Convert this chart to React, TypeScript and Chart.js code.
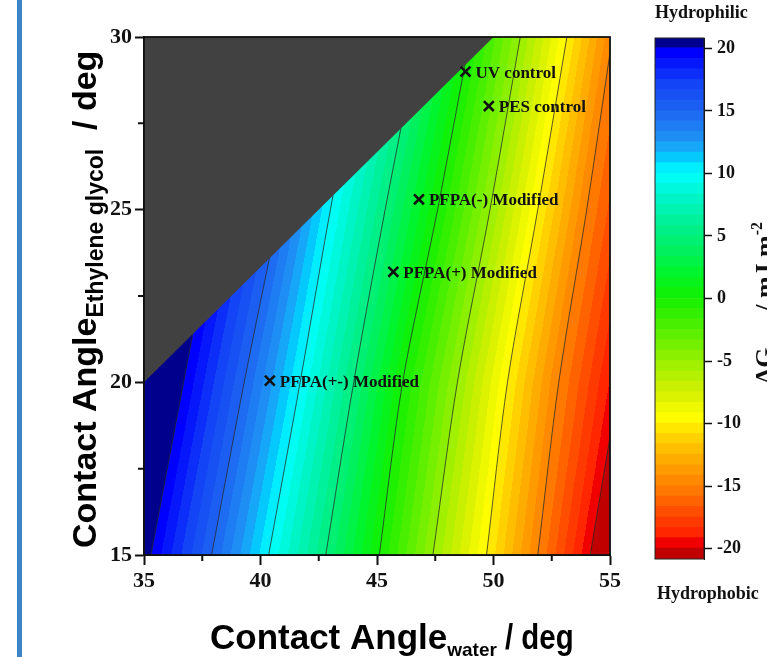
import React, { useEffect, useRef } from "react";
import { Chart, registerables } from "chart.js";

Chart.register(...registerables);

// ---------- axes ----------
const waterMin = 35;
const waterMax = 55;
const egMin = 15;
const egMax = 30;
const waterTicks = [35, 40, 45, 50, 55];
const waterMinorTicks = [37.5, 42.5, 47.5, 52.5];
const egTicks = [15, 20, 25, 30];
const egMinorTicks = [17.5, 22.5, 27.5];

// ---------- contour data (ΔG, mJ m^-2) ----------
// water contact angle at which each ΔG level crosses the given ethylene glycol angle
const contourLevels = [20, 15, 10, 5, 0, -5, -10, -15, -20];
const egRows = [15, 20, 25, 30];
const crossAtEG15 = [35.3, 37.9, 40.35, 42.8, 45.1, 47.4, 49.7, 51.9, 54.15];
const crossAtEG20 = [36.7, 39.3, 41.7, 44.0, 46.1, 48.45, 50.6, 52.8, 55.4];
const crossAtEG25 = [38.1, 40.8, 43.0, 45.35, 47.6, 49.85, 51.9, 54.0, 56.7];
const crossAtEG30 = [39.5, 42.2, 44.4, 46.8, 49.0, 51.15, 53.15, 55.1, 58.0];
const crossRows = [crossAtEG15, crossAtEG20, crossAtEG25, crossAtEG30];

// region without solution (gray): above the line between these two points
const maskWater = [35, 50];
const maskEG = [20, 30];

// ---------- membranes ----------
const sampleNames = ["UV control", "PES control", "PFPA(-) Modified", "PFPA(+) Modified", "PFPA(+-) Modified"];
const sampleWater = [48.8, 49.8, 46.8, 45.7, 40.4];
const sampleEG = [29.0, 28.0, 25.3, 23.2, 20.05];

// ---------- colour bar ----------
const bandWidth = 5 / 6;
const colorbarTicks = [20, 15, 10, 5, 0, -5, -10, -15, -20];
const cmapValues = [20.4, 19.6, 17, 15, 12.5, 11, 10, 8, 6, 4, 2, 0, -2, -5, -7.5, -9.5, -11, -12.5, -15, -17, -19, -19.6, -20.4];
const cmapColors = [
  "#00008c", "#0000ff", "#1446f5", "#1e64f0", "#1e96f5", "#00d2ff", "#00ffff",
  "#00f5c8", "#00f096", "#00f064", "#00f52d", "#14f000", "#46f000", "#96f000",
  "#d2f000", "#ffff00", "#ffd700", "#ffb400", "#ff8200", "#ff5000", "#ff2000",
  "#f00000", "#c00000",
];

const SERIF = '"Liberation Serif", "Times New Roman", serif';
const SANS = '"Liberation Sans", Arial, sans-serif';

function hexToRgb(h: string): number[] {
  const n = parseInt(h.slice(1), 16);
  return [(n >> 16) & 255, (n >> 8) & 255, n & 255];
}
const cmapRgb = cmapColors.map(hexToRgb);

function cmap(v: number): number[] {
  if (v >= cmapValues[0]) return cmapRgb[0];
  const n = cmapValues.length;
  if (v <= cmapValues[n - 1]) return cmapRgb[n - 1];
  for (let i = 0; i < n - 1; i++) {
    const a = cmapValues[i], b = cmapValues[i + 1];
    if (v <= a && v >= b) {
      const t = (a - v) / (a - b);
      const c0 = cmapRgb[i], c1 = cmapRgb[i + 1];
      return [0, 1, 2].map((k) => Math.round(c0[k] + t * (c1[k] - c0[k])));
    }
  }
  return cmapRgb[n - 1];
}

const cbMin = -20 - bandWidth;
const cbMax = 20 + bandWidth;
const bands: { lo: number; hi: number; rgb: number[] }[] = [];
for (let k = -1; k <= 48; k++) {
  const lo = Math.round((-20 + k * bandWidth) * 1e6) / 1e6;
  const hi = Math.round((-20 + (k + 1) * bandWidth) * 1e6) / 1e6;
  bands.push({ lo, hi, rgb: cmap((lo + hi) / 2) });
}
const rgbStr = (c: number[]) => `rgb(${c[0]},${c[1]},${c[2]})`;

function bandRgb(v: number): number[] {
  let k = Math.floor((v + 20) / bandWidth);
  if (k < -1) k = -1;
  if (k > 48) k = 48;
  return bands[k + 1].rgb;
}

function crossingsAt(eg: number): number[] {
  const n = egRows.length;
  let j = 0;
  if (eg >= egRows[n - 1]) j = n - 2;
  else if (eg > egRows[0]) {
    while (j < n - 2 && eg >= egRows[j + 1]) j++;
  }
  const t = (eg - egRows[j]) / (egRows[j + 1] - egRows[j]);
  return contourLevels.map((_, i) => crossRows[j][i] + t * (crossRows[j + 1][i] - crossRows[j][i]));
}

function valueAt(w: number, xc: number[]): number {
  const n = contourLevels.length;
  let i = 0;
  if (w >= xc[n - 1]) i = n - 2;
  else if (w > xc[0]) {
    while (i < n - 2 && w >= xc[i + 1]) i++;
  }
  const f = (w - xc[i]) / (xc[i + 1] - xc[i]);
  return contourLevels[i] + f * (contourLevels[i + 1] - contourLevels[i]);
}

type Seg = { t: string; font: string; dy: number; sx?: number };
function drawSegs(ctx: CanvasRenderingContext2D, segs: Seg[], x: number, y: number, align: "left" | "center") {
  ctx.textAlign = "left";
  ctx.textBaseline = "alphabetic";
  const widths = segs.map((s) => {
    ctx.font = s.font;
    return ctx.measureText(s.t).width * (s.sx ?? 1);
  });
  const total = widths.reduce((a, b) => a + b, 0);
  let cx = align === "center" ? x - total / 2 : x;
  segs.forEach((s, i) => {
    ctx.save();
    ctx.font = s.font;
    ctx.translate(cx, y + s.dy);
    ctx.scale(s.sx ?? 1, 1);
    ctx.fillText(s.t, 0, 0);
    ctx.restore();
    cx += widths[i];
  });
}

const fieldPlugin = {
  id: "field",
  beforeDatasetsDraw(chart: any) {
    const { ctx, chartArea: a, scales } = chart;
    const xs = scales.x, ys = scales.y;
    const w = Math.round(a.right - a.left);
    const h = Math.round(a.bottom - a.top);
    const off = document.createElement("canvas");
    off.width = w;
    off.height = h;
    const octx = off.getContext("2d")!;
    const img = octx.createImageData(w, h);
    const waterVals: number[] = [];
    for (let c = 0; c < w; c++) waterVals.push(xs.getValueForPixel(a.left + c + 0.5));
    for (let r = 0; r < h; r++) {
      const eg = ys.getValueForPixel(a.top + r + 0.5);
      const xc = crossingsAt(eg);
      for (let c = 0; c < w; c++) {
        const col = bandRgb(valueAt(waterVals[c], xc));
        const p = (r * w + c) * 4;
        img.data[p] = col[0];
        img.data[p + 1] = col[1];
        img.data[p + 2] = col[2];
        img.data[p + 3] = 255;
      }
    }
    octx.putImageData(img, 0, 0);
    ctx.save();
    ctx.drawImage(off, a.left, a.top);
    ctx.restore();
  },
};

const decorPlugin = {
  id: "decor",
  afterDatasetsDraw(chart: any) {
    const { ctx, chartArea: a, scales } = chart;
    ctx.save();
    ctx.strokeStyle = "#111";
    ctx.lineWidth = 1.8;
    ctx.strokeRect(a.left, a.top, a.right - a.left, a.bottom - a.top);
    ctx.lineWidth = 2;
    ctx.beginPath();
    waterMinorTicks.forEach((v) => {
      const px = scales.x.getPixelForValue(v);
      ctx.moveTo(px, a.bottom);
      ctx.lineTo(px, a.bottom + 6);
    });
    egMinorTicks.forEach((v) => {
      const py = scales.y.getPixelForValue(v);
      ctx.moveTo(a.left - 6, py);
      ctx.lineTo(a.left, py);
    });
    ctx.stroke();

    // sample labels
    ctx.fillStyle = "#111";
    ctx.font = `bold 17px ${SERIF}`;
    ctx.textAlign = "left";
    ctx.textBaseline = "alphabetic";
    sampleNames.forEach((name, i) => {
      const px = scales.x.getPixelForValue(sampleWater[i]);
      const py = scales.y.getPixelForValue(sampleEG[i]);
      ctx.fillText(name, px + 10, py + 6);
    });
    ctx.restore();
  },
  afterDraw(chart: any) {
    const { ctx } = chart;
    ctx.save();
    ctx.fillStyle = "#000";
    drawSegs(
      ctx,
      [
        { t: "Contact Angle", font: `bold 35px ${SANS}`, dy: 0 },
        { t: "water", font: `bold 19px ${SANS}`, dy: 7 },
        { t: " / deg", font: `bold 35px ${SANS}`, dy: 0, sx: 0.84 },
      ],
      210,
      649,
      "left"
    );
    ctx.translate(96, 548);
    ctx.rotate(-Math.PI / 2);
    drawSegs(
      ctx,
      [
        { t: "Contact Angle", font: `bold 34px ${SANS}`, dy: 0 },
        { t: "Ethylene glycol", font: `bold 23px ${SANS}`, dy: 7 },
        { t: "  / deg", font: `bold 34px ${SANS}`, dy: 0 },
      ],
      0,
      0,
      "left"
    );
    ctx.restore();
  },
};

const cbPlugin = {
  id: "cbDecor",
  afterDatasetsDraw(chart: any) {
    const { ctx, chartArea: a } = chart;
    ctx.save();
    ctx.strokeStyle = "#222";
    ctx.lineWidth = 1;
    ctx.strokeRect(a.left, a.top, a.right - a.left, a.bottom - a.top);
    ctx.restore();
  },
  afterDraw(chart: any) {
    const { ctx } = chart;
    ctx.save();
    ctx.fillStyle = "#111";
    ctx.textAlign = "left";
    ctx.textBaseline = "alphabetic";
    ctx.font = `bold 18px ${SERIF}`;
    ctx.fillText("Hydrophilic", 35, 18);
    ctx.fillText("Hydrophobic", 37, 599);
    ctx.translate(153, 303);
    ctx.rotate(-Math.PI / 2);
    drawSegs(
      ctx,
      [
        { t: "ΔG", font: `bold 26px ${SERIF}`, dy: 0 },
        { t: "1w1", font: `bold 17px ${SERIF}`, dy: 7 },
        { t: " / mJ m", font: `bold 26px ${SERIF}`, dy: 0 },
        { t: "-2", font: `bold 16px ${SERIF}`, dy: -11 },
      ],
      0,
      0,
      "center"
    );
    ctx.restore();
  },
};

const tickFont = { family: SERIF, size: 22, weight: "bold" as const };

export default function App() {
  const mainRef = useRef<HTMLCanvasElement>(null);
  const cbRef = useRef<HTMLCanvasElement>(null);

  useEffect(() => {
    const contourDatasets = contourLevels.map((lvl, i) => ({
      type: "line" as const,
      label: `ΔG = ${lvl}`,
      data: egRows.map((eg, j) => ({ x: crossRows[j][i], y: eg })),
      borderColor: "rgba(40,40,40,0.85)",
      borderWidth: 0.9,
      pointRadius: 0,
      tension: 0.3,
      fill: false,
      order: 3,
    }));
    const maskDataset = {
      type: "line" as const,
      label: "mask",
      data: maskWater.map((w, i) => ({ x: w, y: maskEG[i] })),
      borderWidth: 0,
      borderColor: "rgba(0,0,0,0)",
      backgroundColor: "#414141",
      pointRadius: 0,
      fill: "end",
      order: 2,
    };
    const sampleDataset = {
      type: "scatter" as const,
      label: "samples",
      data: sampleWater.map((w, i) => ({ x: w, y: sampleEG[i] })),
      pointStyle: "crossRot",
      pointRadius: 7,
      pointBorderWidth: 2.6,
      pointBorderColor: "#111",
      pointBackgroundColor: "#111",
      order: 1,
      clip: false as any,
    };

    const main = new Chart(mainRef.current!, {
      type: "scatter",
      data: { datasets: [...contourDatasets, maskDataset, sampleDataset] as any },
      options: {
        responsive: false,
        animation: false,
        devicePixelRatio: 1,
        layout: { padding: { left: 0, right: 157, top: 37, bottom: 0 } },
        plugins: { legend: { display: false }, tooltip: { enabled: false } },
        scales: {
          x: {
            type: "linear",
            min: waterMin,
            max: waterMax,
            afterFit: (s: any) => {
              s.height = 102;
            },
            afterBuildTicks: (s: any) => {
              s.ticks = waterTicks.map((v) => ({ value: v }));
            },
            ticks: { font: tickFont, color: "#111", padding: 3, maxRotation: 0 },
            grid: { drawOnChartArea: false, tickLength: 10, tickWidth: 2, tickColor: "#111" },
            border: { color: "#111", width: 2 },
          },
          y: {
            type: "linear",
            min: egMin,
            max: egMax,
            afterFit: (s: any) => {
              s.width = 144;
            },
            afterBuildTicks: (s: any) => {
              s.ticks = egTicks.map((v) => ({ value: v }));
            },
            ticks: { font: tickFont, color: "#111", padding: 3 },
            grid: { drawOnChartArea: false, tickLength: 9, tickWidth: 2, tickColor: "#111" },
            border: { color: "#111", width: 2 },
          },
        },
      },
      plugins: [fieldPlugin, decorPlugin],
    });

    const cb = new Chart(cbRef.current!, {
      type: "bar",
      data: {
        labels: ["ΔG"],
        datasets: bands.map((b) => ({
          label: `${b.lo.toFixed(2)}..${b.hi.toFixed(2)}`,
          data: [[b.lo, b.hi]] as any,
          backgroundColor: rgbStr(b.rgb),
          borderWidth: 0,
          barPercentage: 1,
          categoryPercentage: 1,
          grouped: false,
          inflateAmount: 0.8,
        })),
      },
      options: {
        responsive: false,
        animation: false,
        devicePixelRatio: 1,
        layout: { padding: { left: 35, right: 0, top: 38, bottom: 98 } },
        plugins: { legend: { display: false }, tooltip: { enabled: false } },
        scales: {
          x: { display: false },
          y: {
            position: "right",
            min: cbMin,
            max: cbMax,
            afterFit: (s: any) => {
              s.width = 63;
            },
            afterBuildTicks: (s: any) => {
              s.ticks = colorbarTicks.map((v) => ({ value: v }));
            },
            ticks: { font: { family: SERIF, size: 18, weight: "bold" }, color: "#111", padding: 5 },
            grid: { drawOnChartArea: false, tickLength: 8, tickWidth: 1.5, tickColor: "#111" },
            border: { color: "#111", width: 1 },
          },
        },
      },
      plugins: [cbPlugin],
    });

    return () => {
      main.destroy();
      cb.destroy();
    };
  }, []);

  return (
    <div style={{ position: "fixed", left: 0, top: 0, width: 767, height: 657, background: "#fff", overflow: "hidden" }}>
      <div style={{ position: "absolute", left: 17, top: 0, width: 5, height: 657, background: "#3d85c6" }} />
      <canvas ref={mainRef} width={767} height={657} style={{ position: "absolute", left: 0, top: 0 }} />
      <canvas ref={cbRef} width={147} height={657} style={{ position: "absolute", left: 620, top: 0 }} />
    </div>
  );
}
